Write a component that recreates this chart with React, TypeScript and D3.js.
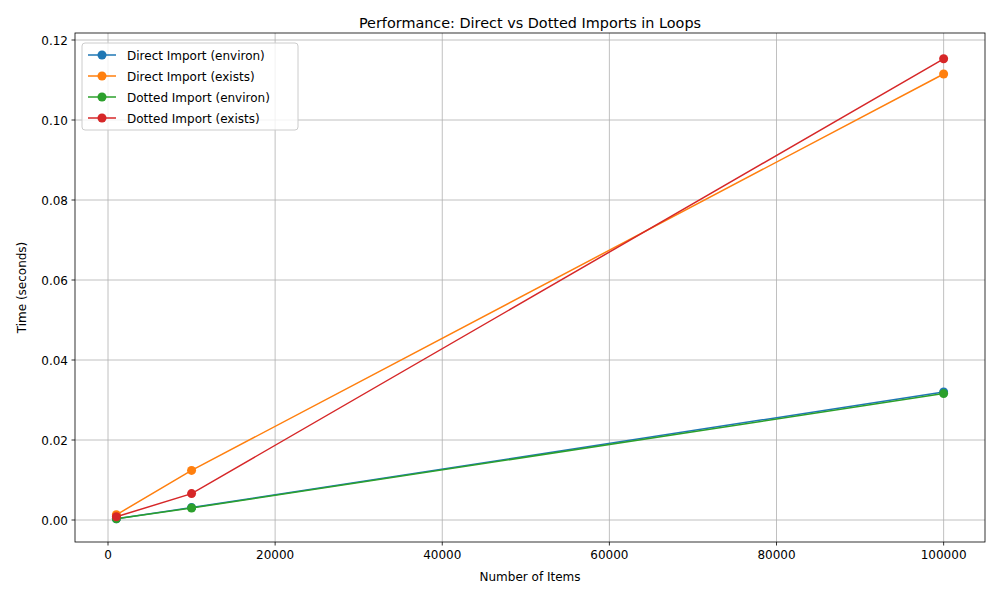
import * as d3 from "d3";

const items = [1000, 10000, 100000];
const directEnviron = [0.0003, 0.0031, 0.032];
const directExists = [0.0013, 0.0124, 0.1115];
const dottedEnviron = [0.0003, 0.003, 0.0316];
const dottedExists = [0.0008, 0.0066, 0.1153];

const seriesNames = [
    "Direct Import (environ)",
    "Direct Import (exists)",
    "Dotted Import (environ)",
    "Dotted Import (exists)",
];
const seriesColors = ["#1f77b4", "#ff7f0e", "#2ca02c", "#d62728"];
const seriesValues = [directEnviron, directExists, dottedEnviron, dottedExists];

const xTicks = [0, 20000, 40000, 60000, 80000, 100000];
const yTicks = [0, 0.02, 0.04, 0.06, 0.08, 0.1, 0.12];

export default function App() {
    const width = 1000;
    const height = 600;
    const margin = { top: 33, right: 15, bottom: 58, left: 75 };

    const xScale = d3.scaleLinear([-3950, 104950], [margin.left, width - margin.right]);
    const yScale = d3.scaleLinear([-0.0055, 0.12175], [height - margin.bottom, margin.top]);

    const line = d3
        .line<number>()
        .x((d, i) => xScale(items[i]))
        .y((d) => yScale(d));

    const font = "DejaVu Sans";
    const x0 = margin.left;
    const x1 = width - margin.right;
    const y0 = height - margin.bottom;
    const y1 = margin.top;

    return (
        <svg
            width={width}
            height={height}
            style={{ position: "absolute", left: 0, top: 0, background: "#fff" }}
            fontFamily={font}
        >
            {/* grid */}
            {xTicks.map((t) => (
                <line key={"gx" + t} x1={xScale(t)} x2={xScale(t)} y1={y0} y2={y1} stroke="#b0b0b0" strokeWidth={0.8} />
            ))}
            {yTicks.map((t) => (
                <line key={"gy" + t} x1={x0} x2={x1} y1={yScale(t)} y2={yScale(t)} stroke="#b0b0b0" strokeWidth={0.8} />
            ))}

            {/* series */}
            {seriesValues.map((vals, s) => (
                <g key={seriesNames[s]}>
                    <path d={line(vals) ?? ""} fill="none" stroke={seriesColors[s]} strokeWidth={1.5} />
                    {vals.map((v, i) => (
                        <circle key={i} cx={xScale(items[i])} cy={yScale(v)} r={4.5} fill={seriesColors[s]} />
                    ))}
                </g>
            ))}

            {/* frame */}
            <rect x={x0} y={y1} width={x1 - x0} height={y0 - y1} fill="none" stroke="#000" strokeWidth={0.8} />

            {/* ticks */}
            {xTicks.map((t) => (
                <g key={"tx" + t}>
                    <line x1={xScale(t)} x2={xScale(t)} y1={y0} y2={y0 + 3.5} stroke="#000" strokeWidth={0.8} />
                    <text x={xScale(t)} y={y0 + 17} fontSize={12} textAnchor="middle">{t}</text>
                </g>
            ))}
            {yTicks.map((t) => (
                <g key={"ty" + t}>
                    <line x1={x0 - 3.5} x2={x0} y1={yScale(t)} y2={yScale(t)} stroke="#000" strokeWidth={0.8} />
                    <text x={x0 - 7} y={yScale(t) + 4.5} fontSize={12} textAnchor="end">{t.toFixed(2)}</text>
                </g>
            ))}

            {/* labels */}
            <text x={(x0 + x1) / 2} y={581} fontSize={12} textAnchor="middle">Number of Items</text>
            <text transform={`translate(26,${(y0 + y1) / 2}) rotate(-90)`} fontSize={12} textAnchor="middle">Time (seconds)</text>
            <text x={(x0 + x1) / 2} y={28} fontSize={14.4} textAnchor="middle">Performance: Direct vs Dotted Imports in Loops</text>

            {/* legend */}
            <rect x={82} y={43} width={216} height={87} fill="#fff" fillOpacity={0.8} stroke="#ccc" rx={3} />
            {seriesNames.map((n, i) => (
                <g key={"lg" + n} transform={`translate(0,${55 + i * 21})`}>
                    <line x1={88} x2={116} y1={0} y2={0} stroke={seriesColors[i]} strokeWidth={1.5} />
                    <circle cx={102} cy={0} r={4.5} fill={seriesColors[i]} />
                    <text x={127} y={4.5} fontSize={12}>{n}</text>
                </g>
            ))}
        </svg>
    );
}
